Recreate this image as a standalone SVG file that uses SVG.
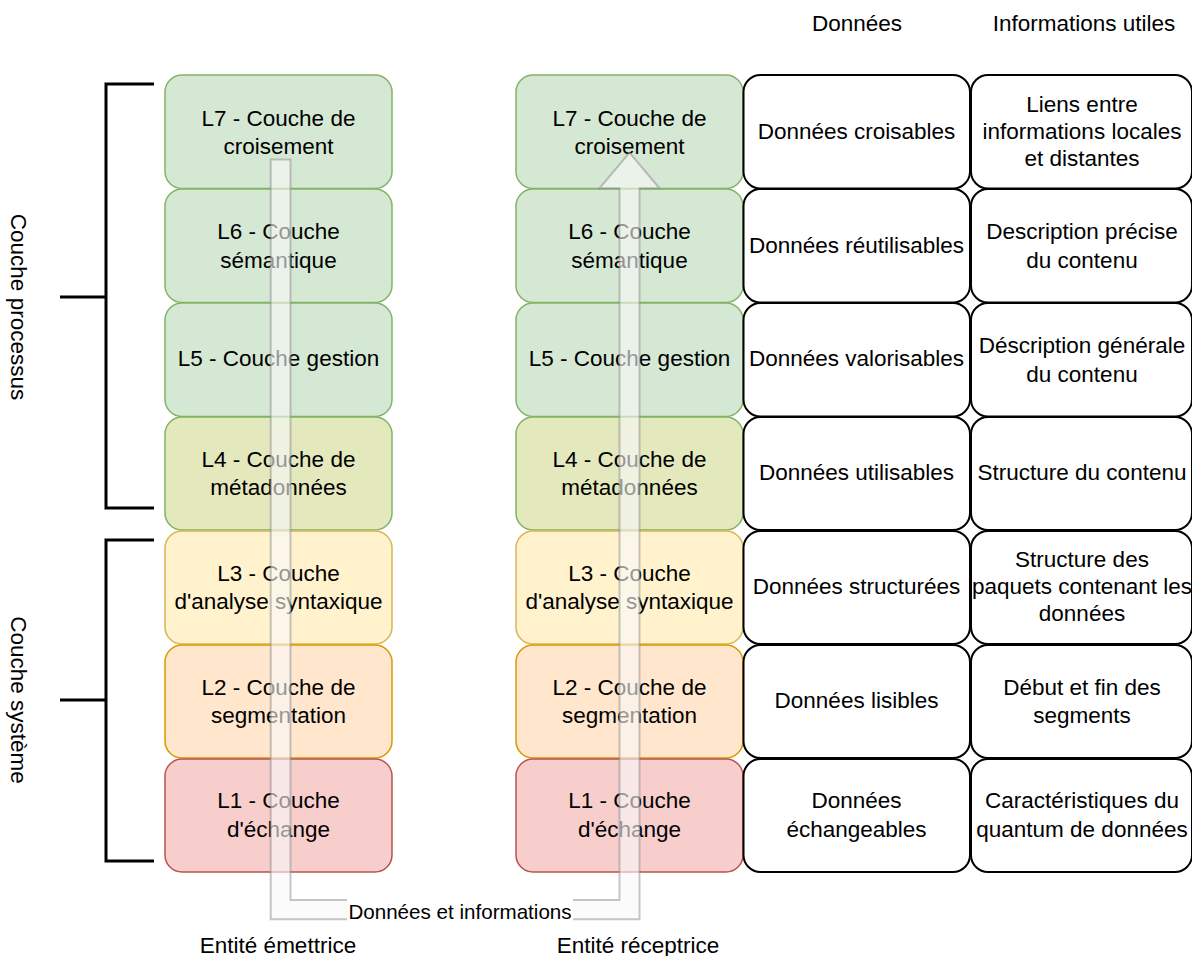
<svg xmlns="http://www.w3.org/2000/svg" width="1192" height="956" viewBox="0 0 1192 956">
  <style>
    text { font-family: "Liberation Sans", Arial, sans-serif; font-size: 22.5px; fill: #000; text-anchor: middle; dominant-baseline: central; }
    .box { stroke-width: 1.5; }
    .g { fill: #d5e8d4; stroke: #82b366; }
    .m { fill: #e4e8bd; stroke: #82b366; }
    .y { fill: #fff2cc; stroke: #d6b656; }
    .o { fill: #ffe6cc; stroke: #d79b00; }
    .r { fill: #f8cecc; stroke: #b85450; }
    .w { fill: #ffffff; stroke: #000000; stroke-width: 2; }
    .brace { fill: none; stroke: #000; stroke-width: 3; }
    .flow { fill: #f8f8f8; fill-opacity: 0.6; stroke: #808080; stroke-opacity: 0.45; stroke-width: 2; }
    .lbl { font-size: 20.6px; }
  </style>

  <!-- column headers -->
  <g id="headers">
    <text x="857" y="23">Données</text>
    <text x="1084" y="23">Informations utiles</text>
  </g>

  <!-- side brackets -->
  <g id="bracket-processus">
    <path class="brace" d="M154 84 H106 V508 H154 M106 297 H60"/>
    <text transform="translate(18 307) rotate(90)">Couche processus</text>
  </g>
  <g id="bracket-systeme">
    <path class="brace" d="M154 540 H106 V861 H154 M106 700 H60"/>
    <text transform="translate(18 700) rotate(90)">Couche système</text>
  </g>

  <!-- sending entity stack -->
  <g id="emettrice">
    <g id="e-l7"><rect class="box g" x="165" y="75" width="227" height="113.5" rx="17"/><text x="278.5" y="118">L7 - Couche de</text><text x="278.5" y="146">croisement</text></g>
    <g id="e-l6"><rect class="box g" x="165" y="189" width="227" height="113.5" rx="17"/><text x="278.5" y="231">L6 - Couche</text><text x="278.5" y="260">sémantique</text></g>
    <g id="e-l5"><rect class="box g" x="165" y="303" width="227" height="113.5" rx="17"/><text x="278.5" y="358">L5 - Couche gestion</text></g>
    <g id="e-l4"><rect class="box m" x="165" y="417" width="227" height="113" rx="17"/><text x="278.5" y="459">L4 - Couche de</text><text x="278.5" y="487">métadonnées</text></g>
    <g id="e-l3"><rect class="box y" x="165" y="531" width="227" height="113" rx="17"/><text x="278.5" y="573">L3 - Couche</text><text x="278.5" y="601">d'analyse syntaxique</text></g>
    <g id="e-l2"><rect class="box o" x="165" y="645" width="227" height="113" rx="17"/><text x="278.5" y="687">L2 - Couche de</text><text x="278.5" y="715">segmentation</text></g>
    <g id="e-l1"><rect class="box r" x="165" y="759" width="227" height="113" rx="17"/><text x="278.5" y="800">L1 - Couche</text><text x="278.5" y="829">d'échange</text></g>
    <text x="278" y="945">Entité émettrice</text>
  </g>

  <!-- receiving entity stack -->
  <g id="receptrice">
    <g id="r-l7"><rect class="box g" x="516" y="75" width="227" height="113.5" rx="17"/><text x="629.5" y="118">L7 - Couche de</text><text x="629.5" y="146">croisement</text></g>
    <g id="r-l6"><rect class="box g" x="516" y="189" width="227" height="113.5" rx="17"/><text x="629.5" y="231">L6 - Couche</text><text x="629.5" y="260">sémantique</text></g>
    <g id="r-l5"><rect class="box g" x="516" y="303" width="227" height="113.5" rx="17"/><text x="629.5" y="358">L5 - Couche gestion</text></g>
    <g id="r-l4"><rect class="box m" x="516" y="417" width="227" height="113" rx="17"/><text x="629.5" y="459">L4 - Couche de</text><text x="629.5" y="487">métadonnées</text></g>
    <g id="r-l3"><rect class="box y" x="516" y="531" width="227" height="113" rx="17"/><text x="629.5" y="573">L3 - Couche</text><text x="629.5" y="601">d'analyse syntaxique</text></g>
    <g id="r-l2"><rect class="box o" x="516" y="645" width="227" height="113" rx="17"/><text x="629.5" y="687">L2 - Couche de</text><text x="629.5" y="715">segmentation</text></g>
    <g id="r-l1"><rect class="box r" x="516" y="759" width="227" height="113" rx="17"/><text x="629.5" y="800">L1 - Couche</text><text x="629.5" y="829">d'échange</text></g>
    <text x="638" y="945">Entité réceptrice</text>
  </g>

  <!-- data column -->
  <g id="donnees">
    <g id="d7"><rect class="w" x="743.5" y="75" width="226.5" height="113.5" rx="17"/><text x="856.5" y="131">Données croisables</text></g>
    <g id="d6"><rect class="w" x="743.5" y="189" width="226.5" height="113.5" rx="17"/><text x="856.5" y="245">Données réutilisables</text></g>
    <g id="d5"><rect class="w" x="743.5" y="303" width="226.5" height="113.5" rx="17"/><text x="856.5" y="358">Données valorisables</text></g>
    <g id="d4"><rect class="w" x="743.5" y="417" width="226.5" height="113" rx="17"/><text x="856.5" y="472">Données utilisables</text></g>
    <g id="d3"><rect class="w" x="743.5" y="531" width="226.5" height="113" rx="17"/><text x="856.5" y="586">Données structurées</text></g>
    <g id="d2"><rect class="w" x="743.5" y="645" width="226.5" height="113" rx="17"/><text x="856.5" y="700">Données lisibles</text></g>
    <g id="d1"><rect class="w" x="743.5" y="759" width="226.5" height="113" rx="17"/><text x="856.5" y="800">Données</text><text x="856.5" y="829">échangeables</text></g>
  </g>

  <!-- useful information column -->
  <g id="informations">
    <g id="i7"><rect class="w" x="971" y="75" width="221" height="113.5" rx="17"/><text x="1082" y="104">Liens entre</text><text x="1082" y="131">informations locales</text><text x="1082" y="158">et distantes</text></g>
    <g id="i6"><rect class="w" x="971" y="189" width="221" height="113.5" rx="17"/><text x="1082" y="231">Description précise</text><text x="1082" y="260">du contenu</text></g>
    <g id="i5"><rect class="w" x="971" y="303" width="221" height="113.5" rx="17"/><text x="1082" y="345">Déscription générale</text><text x="1082" y="374">du contenu</text></g>
    <g id="i4"><rect class="w" x="971" y="417" width="221" height="113" rx="17"/><text x="1082" y="472">Structure du contenu</text></g>
    <g id="i3"><rect class="w" x="971" y="531" width="221" height="113" rx="17"/><text x="1082" y="559">Structure des</text><text x="1082" y="586">paquets contenant les</text><text x="1082" y="613">données</text></g>
    <g id="i2"><rect class="w" x="971" y="645" width="221" height="113" rx="17"/><text x="1082" y="687">Début et fin des</text><text x="1082" y="715">segments</text></g>
    <g id="i1"><rect class="w" x="971" y="759" width="221" height="113" rx="17"/><text x="1082" y="800">Caractéristiques du</text><text x="1082" y="829">quantum de données</text></g>
  </g>

  <!-- data flow from sender down and up to receiver -->
  <g id="connectors">
    <path class="flow" d="M270.7 159.5 H290.5 V900 H619.5 V188.3 H599.5 L629.5 152.5 L659.5 188.3 H639.5 V919.3 H270.7 Z"/>
    <rect x="347" y="899" width="226" height="24" fill="#ffffff"/>
    <text class="lbl" x="460" y="911">Données et informations</text>
  </g>
</svg>
